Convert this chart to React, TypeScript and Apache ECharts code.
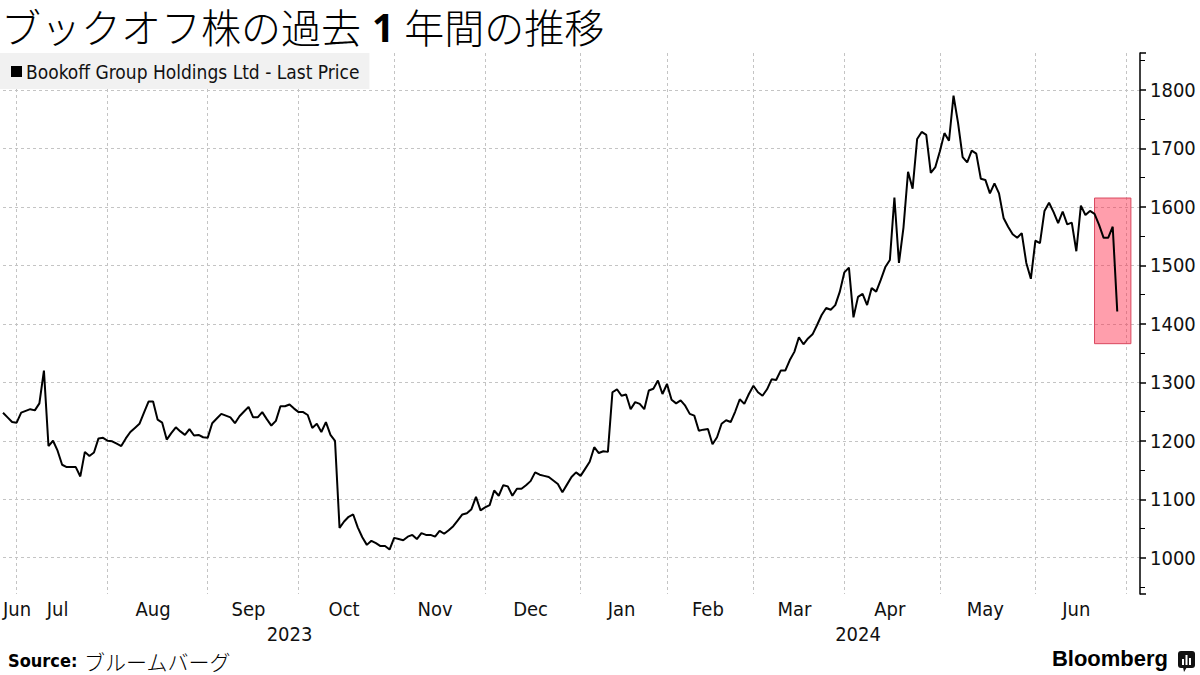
import React, { useEffect, useRef } from "react";
import * as echarts from "echarts";

// Tokyo Stock Exchange holidays in the period (no trading)
const HOLIDAYS = [
  "2023-07-17", "2023-08-11", "2023-09-18", "2023-10-09", "2023-11-03", "2023-11-23",
  "2024-01-01", "2024-01-02", "2024-01-03", "2024-01-08", "2024-02-12", "2024-02-23",
  "2024-03-20", "2024-04-29", "2024-05-03", "2024-05-06",
];
const FIRST_DAY = "2023-06-28";
const LAST_DAY = "2024-07-04";

const SERIES_NAME = "Bookoff Group Holdings Ltd - Last Price";

// Daily closes (JPY), 2023-06-28 .. 2024-06-27
const PRICES = [
  1248, 1240, 1232, 1231, 1248, 1251, 1254, 1252, 1264, 1320,
  1191, 1200, 1183, 1159, 1155, 1155, 1155, 1139, 1181, 1174,
  1180, 1204, 1205, 1200, 1199, 1195, 1191, 1204, 1215, 1222,
  1229, 1248, 1267, 1267, 1236, 1231, 1202, 1213, 1223, 1216,
  1210, 1220, 1209, 1210, 1206, 1205, 1230, 1238, 1246, 1243,
  1240, 1230, 1242, 1250, 1258, 1240, 1240, 1249, 1237, 1226,
  1234, 1259, 1259, 1262, 1255, 1249, 1249, 1244, 1222, 1229,
  1215, 1232, 1210, 1200, 1051, 1062, 1070, 1074, 1052, 1035,
  1022, 1029, 1025, 1020, 1020, 1014, 1034, 1032, 1030, 1036,
  1039, 1032, 1042, 1039, 1039, 1036, 1046, 1041, 1047, 1054,
  1064, 1074, 1076, 1083, 1104, 1081, 1086, 1090, 1115, 1106,
  1124, 1122, 1106, 1118, 1118, 1124, 1131, 1146, 1142, 1140,
  1138, 1132, 1126, 1112, 1125, 1138, 1146, 1140, 1152, 1164,
  1189, 1179, 1182, 1181, 1283, 1288, 1277, 1279, 1254, 1266,
  1263, 1254, 1286, 1289, 1303, 1280, 1297, 1270, 1264, 1269,
  1260, 1246, 1243, 1217, 1219, 1220, 1194, 1206, 1229, 1235,
  1232, 1250, 1271, 1263, 1280, 1294, 1283, 1277, 1288, 1305,
  1304, 1320, 1320, 1338, 1352, 1377, 1365, 1375, 1382, 1398,
  1415, 1427, 1424, 1432, 1455, 1488, 1496, 1411, 1446, 1451,
  1432, 1461, 1455, 1475, 1497, 1509, 1616, 1504, 1565, 1660,
  1631, 1716, 1728, 1723, 1658, 1668, 1695, 1726, 1713, 1790,
  1743, 1685, 1676, 1696, 1691, 1648, 1646, 1623, 1640, 1623,
  1581, 1566, 1553, 1547, 1555, 1504, 1477, 1542, 1538, 1593,
  1607, 1591, 1572, 1592, 1570, 1573, 1524, 1602, 1586, 1593,
  1588, 1569, 1547, 1547, 1566, 1421,
];

const MONTH_LABELS = ["Jan", "Feb", "Mar", "Apr", "May", "Jun", "Jul", "Aug", "Sep", "Oct", "Nov", "Dec"];

const Y_MIN = 938;
const Y_MAX = 1863;

// Highlight box (annotation)
const HIGHLIGHT_FROM = "2024-06-20";
const HIGHLIGHT_TO = "2024-07-02";
const HIGHLIGHT_LOW = 1366;
const HIGHLIGHT_HIGH = 1615;

const TITLE_A = "ブックオフ株の過去";
const TITLE_NUM = "1";
const TITLE_B = "年間の推移";
const SOURCE_LABEL = "Source:";
const SOURCE_TEXT = "ブルームバーグ";

function buildTradingDays(): string[] {
  const out: string[] = [];
  const [y0, m0, d0] = FIRST_DAY.split("-").map(Number);
  const [y1, m1, d1] = LAST_DAY.split("-").map(Number);
  const d = new Date(Date.UTC(y0, m0 - 1, d0));
  const end = Date.UTC(y1, m1 - 1, d1);
  while (d.getTime() <= end) {
    const s = d.toISOString().slice(0, 10);
    const wd = d.getUTCDay();
    if (wd !== 0 && wd !== 6 && !HOLIDAYS.includes(s)) out.push(s);
    d.setUTCDate(d.getUTCDate() + 1);
  }
  return out;
}

const AXIS_FONT = "'DejaVu Sans Condensed', 'Liberation Sans Narrow', 'DejaVu Sans', sans-serif";
const CJK_FONT = "'Noto Sans CJK JP', sans-serif";

export default function App() {
  const ref = useRef<HTMLDivElement>(null);

  useEffect(() => {
    if (!ref.current) return;
    const chart = echarts.init(ref.current, undefined, { renderer: "svg" });
    const days = buildTradingDays();

    // month groups
    const monthKey = (s: string) => s.slice(0, 7);
    const groups: { key: string; start: number; end: number }[] = [];
    days.forEach((s, i) => {
      const k = monthKey(s);
      if (!groups.length || groups[groups.length - 1].key !== k) groups.push({ key: k, start: i, end: i });
      else groups[groups.length - 1].end = i;
    });
    const monthStarts = new Set(groups.slice(1).map((g) => g.start));
    const monthLabelIdx = new Set<number>();
    groups.forEach((g, gi) => {
      if (gi === 0) monthLabelIdx.add(0);
      else if (g.end - g.start >= 8) monthLabelIdx.add(Math.floor((g.start + g.end) / 2));
    });
    // year groups
    const yearGroups: { key: string; start: number; end: number }[] = [];
    days.forEach((s, i) => {
      const k = s.slice(0, 4);
      if (!yearGroups.length || yearGroups[yearGroups.length - 1].key !== k) yearGroups.push({ key: k, start: i, end: i });
      else yearGroups[yearGroups.length - 1].end = i;
    });
    const yearLabelIdx = new Set(yearGroups.map((g) => Math.floor((g.start + g.end) / 2)));

    chart.setOption({
      animation: false,
      backgroundColor: "#ffffff",
      graphic: [
        {
          type: "text",
          left: 1,
          top: 6,
          style: {
            text: `{a|${TITLE_A}}{b|${TITLE_NUM}}{a|${TITLE_B}}`,
            rich: {
              a: { fontFamily: CJK_FONT, fontSize: 40, fontWeight: 300, fill: "#000" },
              b: { fontFamily: "'Noto Sans', 'DejaVu Sans', sans-serif", fontSize: 39, fontWeight: "bold", fill: "#000", padding: [0, 10, 0, 11] },
            },
          },
        },
        {
          type: "text",
          left: 8,
          top: 650,
          style: {
            text: `{s|${SOURCE_LABEL}}  {j|${SOURCE_TEXT}}`,
            rich: {
              s: { fontFamily: AXIS_FONT, fontWeight: "bold", fontSize: 18, fill: "#000" },
              j: { fontFamily: CJK_FONT, fontWeight: 300, fontSize: 21, fill: "#000" },
            },
          },
        },
        {
          type: "text",
          right: 32,
          top: 647,
          style: {
            text: "Bloomberg",
            fontFamily: "'Liberation Sans', Arial, sans-serif",
            fontWeight: "bold",
            fontSize: 22,
            fill: "#000",
          },
        },
        {
          type: "group",
          right: 5,
          top: 651,
          children: [
            { type: "rect", shape: { x: 0, y: 0, width: 17, height: 17, r: 3 }, style: { fill: "#111" } },
            { type: "polygon", shape: { points: [[5, 16], [9, 16], [6, 21]] }, style: { fill: "#111" } },
            { type: "rect", shape: { x: 4, y: 8, width: 2, height: 6 }, style: { fill: "#fff" } },
            { type: "rect", shape: { x: 7.5, y: 4, width: 2, height: 10 }, style: { fill: "#fff" } },
            { type: "rect", shape: { x: 11, y: 7, width: 2, height: 7 }, style: { fill: "#fff" } },
          ],
        },
      ],
      legend: {
        left: 0,
        top: 53,
        padding: [9, 10, 8, 11],
        backgroundColor: "#f1f1f1",
        data: [SERIES_NAME],
        icon: "rect",
        itemWidth: 11,
        itemHeight: 11,
        itemGap: 5,
        selectedMode: false,
        textStyle: { fontFamily: AXIS_FONT, fontSize: 19, color: "#111", padding: [0, 0, 0, -1] },
      },
      grid: { left: 0, right: 60, top: 53, bottom: 81, containLabel: false },
      xAxis: [
        {
          type: "category",
          data: days,
          boundaryGap: false,
          axisLine: { show: false },
          axisTick: { show: false },
          splitLine: {
            show: true,
            interval: (i: number) => monthStarts.has(i),
            lineStyle: { color: "#c4c4c4", type: [3, 3], width: 1 },
          },
          axisLabel: {
            interval: (i: number) => monthLabelIdx.has(i),
            formatter: (v: string) => MONTH_LABELS[Number(v.slice(5, 7)) - 1],
            alignMinLabel: "left",
            fontFamily: AXIS_FONT,
            fontSize: 20,
            color: "#111",
            margin: 5,
          },
        },
        {
          type: "category",
          data: days,
          boundaryGap: false,
          position: "bottom",
          offset: 25,
          axisLine: { show: false },
          axisTick: { show: false },
          splitLine: { show: false },
          axisLabel: {
            interval: (i: number) => yearLabelIdx.has(i),
            formatter: (v: string) => v.slice(0, 4),
            fontFamily: AXIS_FONT,
            fontSize: 20,
            color: "#111",
            margin: 5,
          },
        },
      ],
      yAxis: {
        type: "value",
        position: "right",
        min: Y_MIN,
        max: Y_MAX,
        splitNumber: 9,
        axisLine: { show: true, lineStyle: { color: "#000", width: 1.5 } },
        axisTick: { show: true, length: 6, lineStyle: { color: "#000", width: 1.5 } },
        minorTick: { show: true, splitNumber: 2, length: 5, lineStyle: { color: "#000", width: 1 } },
        splitLine: {
          show: true,
          showMinLine: false,
          showMaxLine: false,
          lineStyle: { color: "#c4c4c4", type: [3, 3], width: 1 },
        },
        axisLabel: {
          showMinLabel: false,
          showMaxLabel: false,
          formatter: (v: number) => String(v),
          fontFamily: AXIS_FONT,
          fontSize: 20,
          color: "#111",
          margin: 10,
        },
      },
      series: [
        {
          name: SERIES_NAME,
          type: "line",
          data: PRICES,
          showSymbol: false,
          symbol: "none",
          color: "#000",
          lineStyle: { color: "#000", width: 2 },
          z: 2,
          silent: true,
        },
        {
          name: "highlight",
          type: "line",
          data: [],
          silent: true,
          z: 5,
          markArea: {
            silent: true,
            itemStyle: { color: "rgba(255, 40, 70, 0.45)", borderColor: "#d9485f", borderWidth: 1 },
            data: [[
              { xAxis: HIGHLIGHT_FROM, yAxis: HIGHLIGHT_HIGH },
              { xAxis: HIGHLIGHT_TO, yAxis: HIGHLIGHT_LOW },
            ]],
          },
        },
      ],
    });

    return () => chart.dispose();
  }, []);

  return (
    <div
      ref={ref}
      style={{ position: "fixed", left: 0, top: 0, width: 1200, height: 675, background: "#fff" }}
    />
  );
}
